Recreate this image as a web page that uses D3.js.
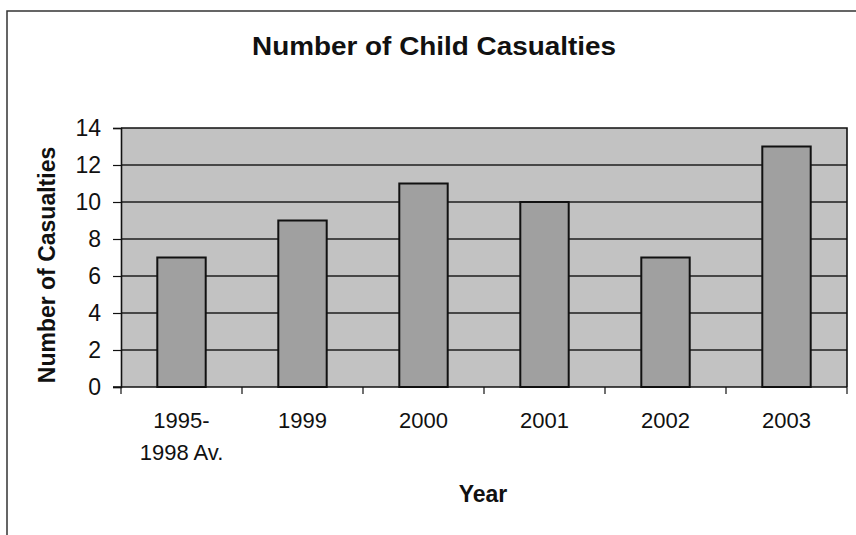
<!DOCTYPE html>
<html>
<head>
<meta charset="utf-8">
<script src="https://cdn.jsdelivr.net/npm/d3@7"></script>
<style>
  html, body { margin: 0; padding: 0; background: #fff; }
  svg { display: block; font-family: Arial, "Liberation Sans", sans-serif; }
</style>
</head>
<body>
<svg id="chart" width="856" height="535"></svg>
<script>
// Child casualties by year
const categories = [["1995-", "1998 Av."], ["1999"], ["2000"], ["2001"], ["2002"], ["2003"]];
const casualties = [7, 9, 11, 10, 7, 13];
const yTicks = [0, 2, 4, 6, 8, 10, 12, 14];

const svg = d3.select("#chart");
const W = 856, H = 535;
const plot = { left: 121, right: 847, top: 128, bottom: 387 };

// chart frame
svg.append("path")
  .attr("d", `M7,${H + 2}V11H${W + 2}`)
  .attr("fill", "none")
  .attr("stroke", "#333")
  .attr("stroke-width", 1.5);

const keys = categories.map(c => c.join(" "));
const x = d3.scaleBand()
  .domain(keys)
  .range([plot.left, plot.right])
  .paddingInner(0.6)
  .paddingOuter(0.3);
const step = x.step();

const y = d3.scaleLinear().domain([0, 14]).range([plot.bottom, plot.top]);

// plot area background
svg.append("rect")
  .attr("x", plot.left).attr("y", plot.top)
  .attr("width", plot.right - plot.left)
  .attr("height", plot.bottom - plot.top)
  .attr("fill", "#c2c2c2");

// gridlines
svg.append("g")
  .selectAll("line")
  .data(yTicks.filter(t => t > 0 && t < 14))
  .join("line")
  .attr("x1", plot.left).attr("x2", plot.right)
  .attr("y1", d => y(d)).attr("y2", d => y(d))
  .attr("stroke", "#1e1e1e")
  .attr("stroke-width", 1.3);

// plot border (top and right)
svg.append("path")
  .attr("d", `M${plot.left},${plot.top}H${plot.right}V${plot.bottom}`)
  .attr("fill", "none")
  .attr("stroke", "#111")
  .attr("stroke-width", 1.6);

// bars
svg.append("g")
  .selectAll("rect")
  .data(casualties)
  .join("rect")
  .attr("x", (d, i) => x(keys[i]))
  .attr("y", d => y(d))
  .attr("width", x.bandwidth())
  .attr("height", d => y(0) - y(d))
  .attr("fill", "#a0a0a0")
  .attr("stroke", "#111")
  .attr("stroke-width", 2);

// y axis
const yAxis = svg.append("g")
  .attr("transform", `translate(${plot.left},0)`)
  .call(d3.axisLeft(y).tickValues(yTicks).tickSize(8).tickPadding(12).tickFormat(d3.format("d")));
yAxis.select(".domain").attr("stroke", "#111").attr("stroke-width", 1.6);
yAxis.selectAll(".tick line").attr("stroke", "#111").attr("stroke-width", 1.2);
yAxis.selectAll(".tick text")
  .attr("font-size", 23)
  .attr("font-family", "Arial, 'Liberation Sans', sans-serif")
  .attr("fill", "#111");

// x axis: ticks sit between categories
const xAxisG = svg.append("g").attr("transform", `translate(0,${plot.bottom})`);
xAxisG.append("line")
  .attr("x1", plot.left - 8).attr("x2", plot.right)
  .attr("stroke", "#111").attr("stroke-width", 1.6);
const boundaries = keys.map(k => x(k) - step * 0.3).concat([plot.right]);
xAxisG.selectAll("line.tick")
  .data(boundaries)
  .join("line")
  .attr("class", "tick")
  .attr("x1", d => d).attr("x2", d => d)
  .attr("y1", 0).attr("y2", 7)
  .attr("stroke", "#111").attr("stroke-width", 1.2);

const labels = xAxisG.selectAll("text.cat")
  .data(categories)
  .join("text")
  .attr("class", "cat")
  .attr("text-anchor", "middle")
  .attr("font-size", 22)
  .attr("fill", "#111")
  .attr("transform", (d, i) => `translate(${x(keys[i]) + x.bandwidth() / 2},41)`);
labels.selectAll("tspan")
  .data(d => d)
  .join("tspan")
  .attr("x", 0)
  .attr("dy", (d, i) => i === 0 ? 0 : 32)
  .text(d => d);

// title
svg.append("text")
  .attr("x", 434).attr("y", 55)
  .attr("text-anchor", "middle")
  .attr("font-size", 26)
  .attr("font-weight", "bold")
  .attr("fill", "#111")
  .attr("textLength", 364)
  .attr("lengthAdjust", "spacingAndGlyphs")
  .text("Number of Child Casualties");

// axis titles
svg.append("text")
  .attr("transform", `translate(55,265) rotate(-90)`)
  .attr("text-anchor", "middle")
  .attr("font-size", 23)
  .attr("font-weight", "bold")
  .attr("fill", "#111")
  .text("Number of Casualties");

svg.append("text")
  .attr("x", 483).attr("y", 502)
  .attr("text-anchor", "middle")
  .attr("font-size", 23)
  .attr("font-weight", "bold")
  .attr("fill", "#111")
  .text("Year");
</script>
</body>
</html>
